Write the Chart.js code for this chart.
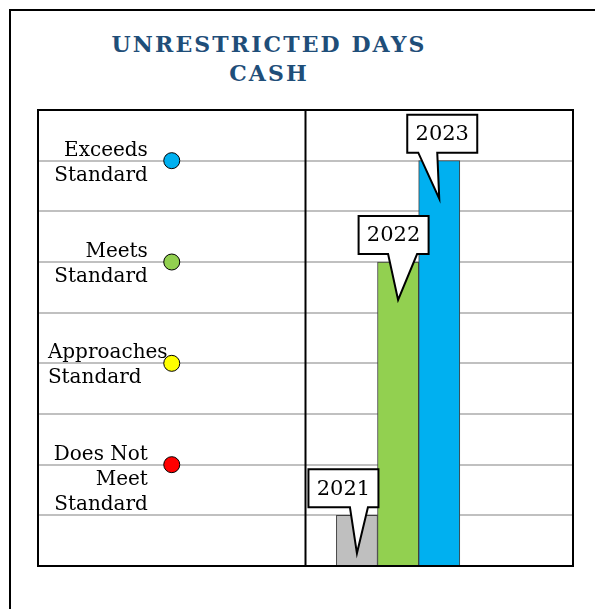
<!DOCTYPE html>
<html>
<head>
<meta charset="utf-8">
<script src="https://cdn.jsdelivr.net/npm/chart.js@4"></script>
<style>
  html, body { margin: 0; padding: 0; background: #fff; overflow: hidden; }
  #frame { position: absolute; left: 9px; top: 9px; width: 700px; height: 700px; border: 2px solid #000; }
  #title {
    position: absolute; left: 0; top: 30px; width: 536px; text-align: center;
    font-family: "DejaVu Serif", serif; font-weight: bold; font-size: 22px;
    line-height: 29px; letter-spacing: 2.1px; padding-left: 2.1px; box-sizing: border-box;
    color: #1f4e79;
  }
  #wrap { position: absolute; left: 0; top: 0; width: 595px; height: 609px; }
</style>
</head>
<body>
<div id="frame"></div>
<div id="title">UNRESTRICTED DAYS<br>CASH</div>
<div id="wrap"><canvas id="chart" width="595" height="609"></canvas></div>
<script>
// 数据
const years = ['2021', '2022', '2023'];
const yearLevels = [1, 6, 8];
const standardNames = [['Exceeds', 'Standard'], ['Meets', 'Standard'], ['Approaches', 'Standard'], ['Does Not', 'Meet', 'Standard']];
const standardLevels = [8, 6, 4, 2];

// 样式
const barColors = ['#bfbfbf', '#92d050', '#00b0f0'];
const dotColors = ['#00b0f0', '#92d050', '#ffff00', '#ff0000'];
const FONT = '20px "DejaVu Serif", serif';
const CALLOUT_FONT = '21px "DejaVu Serif", serif';

// x 方向：左半边放等级说明，右半边放柱子
const BAR_START = 7.75;
const DOT_X = 3.25;
const LABEL_RIGHT = 2.67;
const LABEL_LEFT = 0.24;
const DIVIDER_X = 6.5;

// 标注框的偏移（相对柱子中心）
const callouts = [
  { dx: -13.5, tailL: -7, tailR: 11 },
  { dx: -4.5, tailL: -10, tailR: 19 },
  { dx: 3, tailL: -21, tailR: -2 }
];

const framePlugin = {
  id: 'frame',
  afterDatasetsDraw(chart) {
    const { ctx, chartArea: a, scales: { x, y } } = chart;
    ctx.save();
    ctx.strokeStyle = '#000';
    ctx.lineWidth = 2;
    ctx.strokeRect(a.left, a.top, a.right - a.left, a.bottom - a.top);
    const dx = x.getPixelForValue(DIVIDER_X);
    ctx.beginPath();
    ctx.moveTo(dx, a.top);
    ctx.lineTo(dx, a.bottom);
    ctx.stroke();

    // 左侧等级文字
    ctx.font = FONT;
    ctx.fillStyle = '#000';
    ctx.textBaseline = 'alphabetic';
    standardNames.forEach((lines, i) => {
      const gy = y.getPixelForValue(standardLevels[i]);
      const left = lines[0] === 'Approaches';
      ctx.textAlign = left ? 'left' : 'right';
      const tx = x.getPixelForValue(left ? LABEL_LEFT : LABEL_RIGHT);
      lines.forEach((t, j) => ctx.fillText(t, tx, gy - 5 + j * 25));
    });

    // 年份标注
    ctx.font = CALLOUT_FONT;
    const meta = chart.getDatasetMeta(0);
    meta.data.forEach((bar, i) => {
      const c = callouts[i];
      const w = 70, h = 38;
      const bx = bar.x + c.dx - w / 2;
      const bottom = bar.y - 8;
      const top = bottom - h;
      const tipY = bar.y + 38;
      ctx.beginPath();
      ctx.moveTo(bx, top);
      ctx.lineTo(bx + w, top);
      ctx.lineTo(bx + w, bottom);
      ctx.lineTo(bar.x + c.tailR, bottom);
      ctx.lineTo(bar.x, tipY);
      ctx.lineTo(bar.x + c.tailL, bottom);
      ctx.lineTo(bx, bottom);
      ctx.closePath();
      ctx.fillStyle = '#fff';
      ctx.fill();
      ctx.lineWidth = 2;
      ctx.lineJoin = 'miter';
      ctx.strokeStyle = '#000';
      ctx.stroke();
      ctx.fillStyle = '#000';
      ctx.textAlign = 'center';
      ctx.textBaseline = 'middle';
      ctx.fillText(years[i], bx + w / 2, top + h / 2 + 1);
      ctx.textBaseline = 'alphabetic';
    });
    ctx.restore();
  }
};

new Chart(document.getElementById('chart'), {
  data: {
    datasets: [
      {
        type: 'bar',
        data: yearLevels.map((v, i) => ({ x: BAR_START + i, y: v })),
        backgroundColor: barColors,
        borderColor: '#404040',
        borderWidth: 1,
        borderSkipped: 'bottom',
        categoryPercentage: 1,
        barPercentage: 1
      },
      {
        type: 'scatter',
        data: standardLevels.map(v => ({ x: DOT_X, y: v })),
        backgroundColor: dotColors,
        borderColor: '#000',
        borderWidth: 1,
        pointRadius: 8
      }
    ]
  },
  options: {
    responsive: false,
    animation: false,
    layout: { padding: { left: 38, top: 110, right: 22, bottom: 43 } },
    plugins: { legend: { display: false }, tooltip: { enabled: false } },
    scales: {
      x: { type: 'linear', min: 0, max: 13, offset: false, display: false, ticks: { stepSize: 1 } },
      y: {
        min: 0, max: 9,
        ticks: { display: false, stepSize: 1 },
        grid: { color: '#c0c0c0', lineWidth: 2, drawTicks: false },
        border: { display: false }
      }
    }
  },
  plugins: [framePlugin]
});
</script>
</body>
</html>
